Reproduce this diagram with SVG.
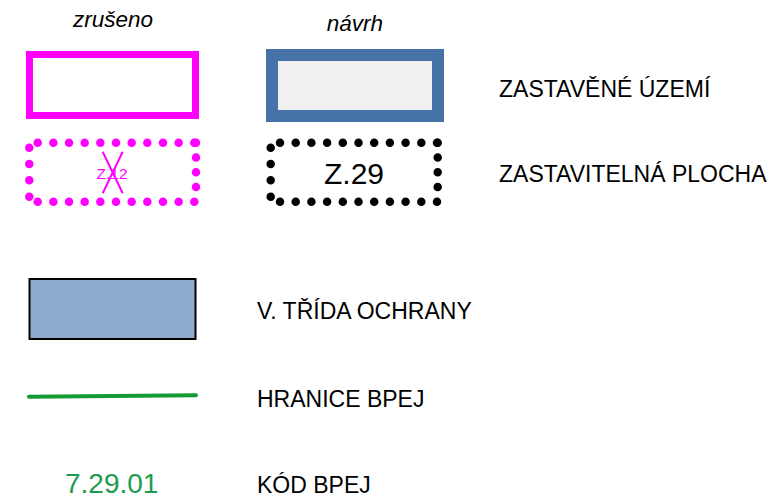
<svg xmlns="http://www.w3.org/2000/svg" width="779" height="501" viewBox="0 0 779 501">
<style>
text{font-family:"Liberation Sans",Arial,sans-serif}
.lbl{font-size:23px;fill:#000}
.hdr{font-size:22.5px;font-style:italic;fill:#000;text-anchor:middle}
.dotm{fill:none;stroke:#ff00ff;stroke-width:8.5;stroke-linecap:round}
.dotk{fill:none;stroke:#000;stroke-width:8.5;stroke-linecap:round}
</style>
<rect width="779" height="501" fill="#fff"/>
<g id="headers">
<text class="hdr" x="113" y="27">zrušeno</text>
<text class="hdr" x="355" y="31">návrh</text>
</g>
<g id="zastavene-zruseno">
<rect x="29.5" y="54.5" width="166" height="61" fill="#fff" stroke="#ff00ff" stroke-width="7"/>
</g>
<g id="zastavene-navrh">
<rect x="272" y="55" width="166" height="61" fill="#f0f0f0" stroke="#4672a8" stroke-width="12"/>
</g>
<g id="zastavitelna-zruseno">
<path class="dotm" d="M37.7 142.7H194.3M37.7 201.7H194.3" stroke-dasharray="0 15.66"/>
<path class="dotm" d="M196 142.7V201.7" stroke-dasharray="0 14.75"/>
<path class="dotm" d="M29.3 147.7V196.7" stroke-dasharray="0 16.33"/>
<text x="112" y="178.5" font-size="15.5" fill="#ff00ff" text-anchor="middle">Z.12</text>
<path d="M102.7 151.7L122.7 193.3M122.7 151.7L102.7 193.3" stroke="#ff00ff" stroke-width="2" fill="none"/>
</g>
<g id="zastavitelna-navrh">
<path class="dotk" d="M280 142.7H437M280 201.7H437" stroke-dasharray="0 15.7"/>
<path class="dotk" d="M437.7 142.7V201.7" stroke-dasharray="0 14.75"/>
<path class="dotk" d="M270.7 147.7V196.7" stroke-dasharray="0 16.33"/>
<text x="354" y="184" font-size="30" fill="#000" text-anchor="middle">Z.29</text>
</g>
<g id="trida">
<rect x="29.5" y="279" width="166" height="60" fill="#8eabce" stroke="#000" stroke-width="2"/>
</g>
<g id="connectors">
<path d="M29 396.8L196 395.3" stroke="#139a32" stroke-width="4" fill="none" stroke-linecap="round"/>
</g>
<g id="kod">
<text x="65" y="493" font-size="28" fill="#1e9a50">7.29.01</text>
</g>
<g id="labels">
<text class="lbl" x="499" y="96.5">ZASTAVĚNÉ ÚZEMÍ</text>
<text class="lbl" x="499" y="181.5">ZASTAVITELNÁ PLOCHA</text>
<text class="lbl" x="257" y="319">V. TŘÍDA OCHRANY</text>
<text class="lbl" x="257" y="407">HRANICE BPEJ</text>
<text class="lbl" x="257" y="493">KÓD BPEJ</text>
</g>
</svg>
